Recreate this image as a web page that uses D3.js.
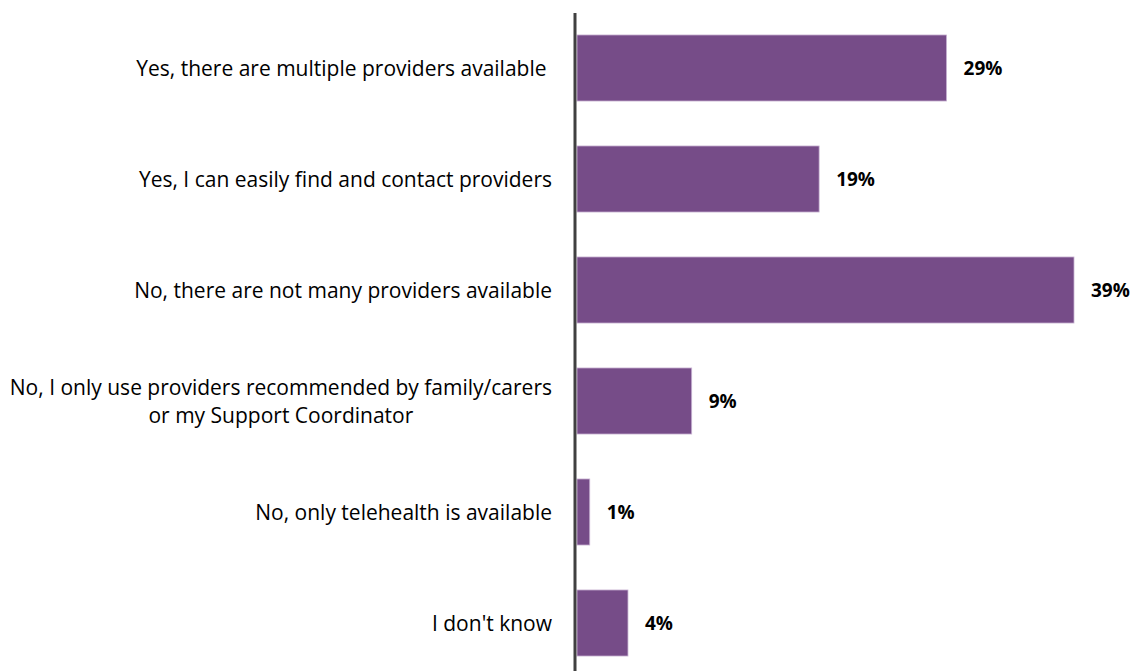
<!DOCTYPE html>
<html>
<head>
<meta charset="utf-8">
<script src="https://cdn.jsdelivr.net/npm/d3@7"></script>
<style>
  html, body { margin: 0; padding: 0; background: #fff; }
  svg { display: block; }
</style>
</head>
<body>
<svg id="chart" width="1136" height="671"></svg>
<script>
const categories = [
  ["Yes, there are multiple providers available "],
  ["Yes, I can easily find and contact providers"],
  ["No, there are not many providers available"],
  ["No, I only use providers recommended by family/carers", "or my Support Coordinator"],
  ["No, only telehealth is available"],
  ["I don't know"]
];
const values = [29, 19, 39, 9, 1, 4];
const valueLabels = ["29%", "19%", "39%", "9%", "1%", "4%"];

const W = 1136, H = 671;
const axisX = 575;
const svg = d3.select("#chart");
const font = "'Open Sans', sans-serif";

const x = d3.scaleLinear().domain([0, 39]).range([axisX + 2, 1074]);
const y = d3.scaleBand()
  .domain(d3.range(values.length))
  .range([12.5, 678.5])
  .paddingInner(0.405)
  .paddingOuter(0.2025);

svg.append("g").selectAll("rect")
  .data(values)
  .join("rect")
  .attr("x", x(0))
  .attr("y", (d, i) => y(i))
  .attr("width", d => x(d) - x(0))
  .attr("height", y.bandwidth())
  .attr("fill", "#764c88")
  .attr("stroke", "#c9b3d3")
  .attr("stroke-width", 0.8);

svg.append("g").selectAll("text")
  .data(values)
  .join("text")
  .attr("x", d => x(d) + 17)
  .attr("y", (d, i) => y(i) + y.bandwidth() / 2)
  .attr("dy", "0.36em")
  .attr("font-family", font)
  .attr("font-weight", "bold")
  .attr("font-size", 19)
  .attr("fill", "#000")
  .text((d, i) => valueLabels[i]);

const fs = 21;
const cat = svg.append("g").selectAll("text")
  .data(categories)
  .join("text")
  .attr("text-anchor", "middle")
  .attr("font-family", font)
  .attr("font-size", fs)
  .attr("fill", "#000")
  .style("white-space", "pre")
  .attr("y", (d, i) => y(i) + y.bandwidth() / 2);

cat.each(function (lines) {
  const t = d3.select(this);
  const lh = 28;
  const y0 = -((lines.length - 1) * lh) / 2;
  lines.forEach((s, k) => {
    t.append("tspan")
      .attr("dy", k === 0 ? (y0 + 0.36 * fs) : lh)
      .text(s);
  });
});
// right-align each block to the axis, centre the lines within it
cat.each(function () {
  const t = d3.select(this);
  const widths = [];
  t.selectAll("tspan").each(function () { widths.push(this.getComputedTextLength()); });
  const wmax = d3.max(widths);
  const cx = 552 - wmax / 2;
  t.selectAll("tspan").attr("x", cx);
});

svg.append("line")
  .attr("x1", axisX).attr("x2", axisX)
  .attr("y1", 13).attr("y2", H)
  .attr("stroke", "#404040")
  .attr("stroke-width", 3);
</script>
</body>
</html>
